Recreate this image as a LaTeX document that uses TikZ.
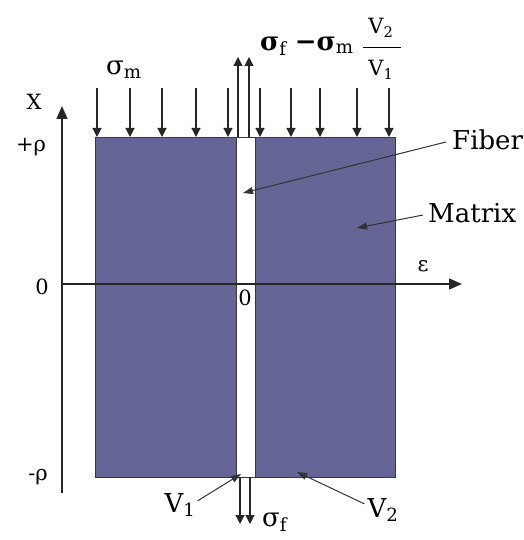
\documentclass[tikz,border=0pt]{standalone}
\usepackage{fontspec}
\setmainfont{DejaVu Serif}
\usetikzlibrary{arrows.meta}
\definecolor{matfill}{RGB}{101,101,150}
\definecolor{edgec}{RGB}{55,55,60}
\begin{document}
\begin{tikzpicture}[x=1pt,y=-1pt,
  load/.style={line width=1.2pt,draw=black!85,-{Triangle[width=9pt,length=9pt]}},
  axis/.style={line width=1.5pt,draw=black!85,-{Triangle[width=11pt,length=13pt]}},
  pointer/.style={line width=1pt,draw=black!80,-{Triangle[width=7pt,length=10pt]}},
  block/.style={fill=matfill,draw=edgec,line width=0.9pt},
  big/.style={font=\fontsize{26}{30}\selectfont,inner sep=0pt},
  mid/.style={font=\fontsize{21}{25}\selectfont,inner sep=0pt}]
\useasboundingbox (0,0) rectangle (523,540);
% matrix blocks and fiber
\draw[block] (95,137) rectangle (236,477);
\draw[block] (255,137) rectangle (395,477);
\draw[fill=white,draw=edgec,line width=0.9pt] (236,137) rectangle (255,477);
% axes
\coordinate (yb) at (62,493);
\coordinate (yt) at (62,106);
\coordinate (xl) at (62,284);
\coordinate (xr) at (462,284);
\draw[axis] (yb) -- (yt);
\draw[axis] (xl) -- (xr);
% matrix loads
\foreach \x [count=\i] in {97,130,162,196,228,260,291,320,357,389}{
  \coordinate (ls\i) at (\x,88);
  \coordinate (le\i) at (\x,137);
  \draw[load] (ls\i) -- (le\i);
}
% fiber loads
\coordinate (fa1) at (238,137); \coordinate (fb1) at (238,57);
\coordinate (fa2) at (249,137); \coordinate (fb2) at (249,57);
\draw[load] (fa1) -- (fb1);
\draw[load] (fa2) -- (fb2);
\coordinate (ga1) at (240,477); \coordinate (gb1) at (240,524);
\coordinate (ga2) at (250,477); \coordinate (gb2) at (250,524);
\draw[load] (ga1) -- (gb1);
\draw[load] (ga2) -- (gb2);
% axis labels
\node[mid] (lX) at (34,102) {X};
\node[mid] (lrp) at (31,147) {+ρ};
\node[mid] (l0) at (42,287) {0};
\node[mid] (lrm) at (38,477) {-ρ};
\node[mid] (leps) at (423,266) {ε};
\node[mid] (lc0) at (245,298) {0};
% stresses
\node[big,anchor=west] (sm) at (106,70) {σ\textsubscript{m}};
\node[big,anchor=west] (sfm) at (260,46) {\textbf{σ}\textsubscript{f} \textbf{−σ}\textsubscript{m}};
\node[mid] (num) at (381,28) {V\textsubscript{2}};
\node[mid] (den) at (381,70) {V\textsubscript{1}};
\coordinate (barl) at (363,48);
\coordinate (barr) at (401,48);
\draw[line width=1pt] (barl) -- (barr);
\node[big,anchor=west] (sfb) at (262,522) {σ\textsubscript{f}};
% pointers
\node[big,anchor=west] (fib) at (452,140) {Fiber};
\node[big,anchor=west] (mat) at (428,213) {Matrix};
\node[big] (v1) at (180,505) {V\textsubscript{1}};
\node[big] (v2) at (383,510) {V\textsubscript{2}};
\coordinate (fibt) at (243,193);
\coordinate (matt) at (357,228);
\coordinate (v1t) at (241,474);
\coordinate (v2t) at (297,472);
\draw[pointer] (fib.west) ++(-6,2) -- (fibt);
\draw[pointer] (mat.west) ++(-5,2) -- (matt);
\draw[pointer] (v1.north east) ++(2,8) -- (v1t);
\draw[pointer] (v2.north west) ++(-3,6) -- (v2t);
\end{tikzpicture}
\end{document}
